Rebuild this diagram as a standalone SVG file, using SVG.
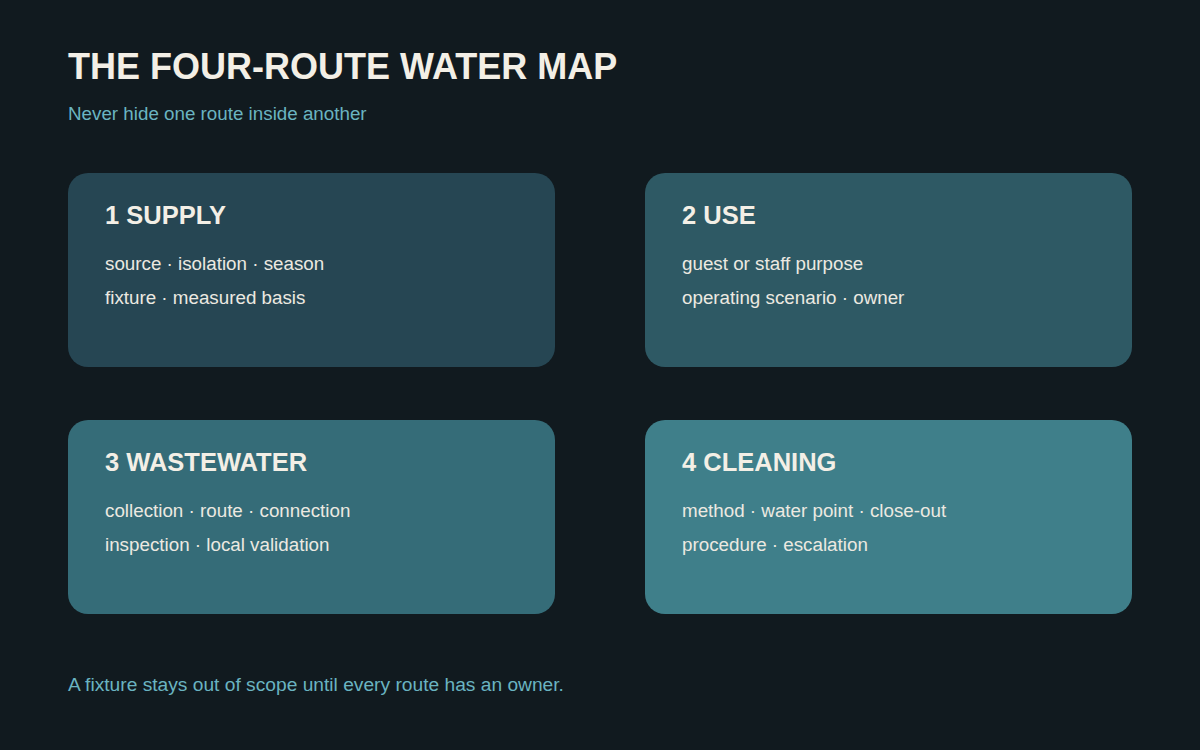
<svg xmlns="http://www.w3.org/2000/svg" width="1200" height="750" viewBox="0 0 1200 750">
<style>
.t{font-family:"Liberation Sans",Arial,sans-serif;}
.title{font-size:36px;font-weight:bold;fill:#f3efe6;}
.sub{font-size:18.8px;fill:#6ab4c1;}
.foot{font-size:19.2px;fill:#6ab4c1;}
.h{font-size:25.5px;font-weight:bold;fill:#f3efe6;}
.b{font-size:18.8px;fill:#ece9e1;}
</style>
<rect width="1200" height="750" fill="#111a1f"/>
<text class="t title" x="68" y="79">THE FOUR-ROUTE WATER MAP</text>
<text class="t sub" x="68" y="120">Never hide one route inside another</text>
<g id="node-supply">
<rect x="68" y="173" width="487" height="194" rx="20" fill="#264653"/>
<text class="t h" x="105" y="224">1 SUPPLY</text>
<text class="t b" x="105" y="270">source · isolation · season</text>
<text class="t b" x="105" y="304">fixture · measured basis</text>
</g>
<g id="node-use">
<rect x="645" y="173" width="487" height="194" rx="20" fill="#2e5964"/>
<text class="t h" x="682" y="224">2 USE</text>
<text class="t b" x="682" y="270">guest or staff purpose</text>
<text class="t b" x="682" y="304">operating scenario · owner</text>
</g>
<g id="node-wastewater">
<rect x="68" y="420" width="487" height="194" rx="20" fill="#356c78"/>
<text class="t h" x="105" y="471">3 WASTEWATER</text>
<text class="t b" x="105" y="517">collection · route · connection</text>
<text class="t b" x="105" y="551">inspection · local validation</text>
</g>
<g id="node-cleaning">
<rect x="645" y="420" width="487" height="194" rx="20" fill="#3f7f8a"/>
<text class="t h" x="682" y="471">4 CLEANING</text>
<text class="t b" x="682" y="517">method · water point · close-out</text>
<text class="t b" x="682" y="551">procedure · escalation</text>
</g>
<g id="connectors"></g>
<text class="t foot" x="68" y="691">A fixture stays out of scope until every route has an owner.</text>
</svg>
